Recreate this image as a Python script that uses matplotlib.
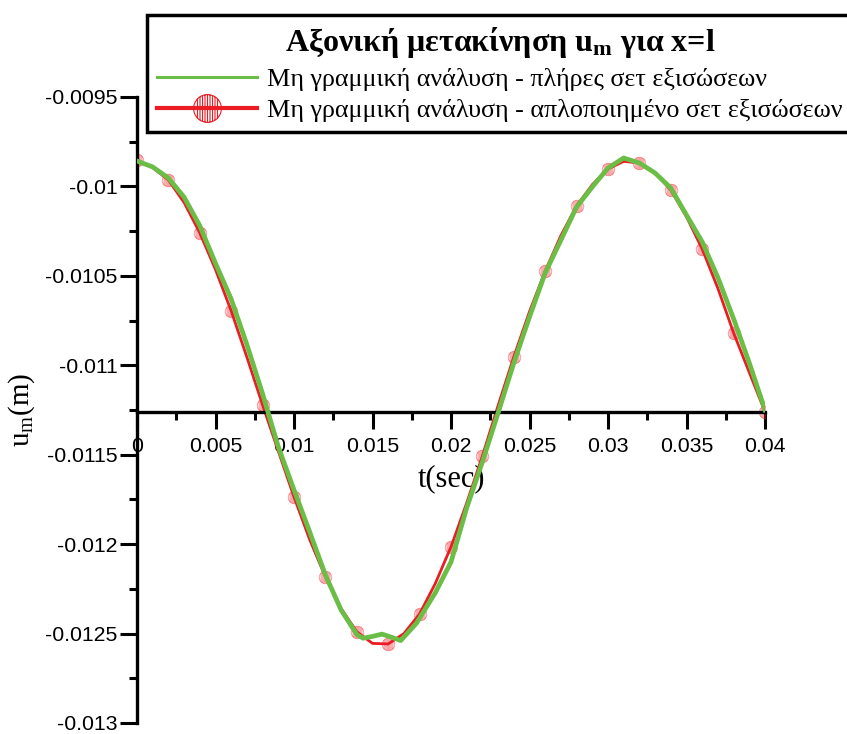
import matplotlib
matplotlib.use("Agg")
import matplotlib.pyplot as plt
import numpy as np
from matplotlib.lines import Line2D
from matplotlib.path import Path
from matplotlib.ticker import MultipleLocator, FuncFormatter

plt.rcParams["mathtext.fontset"] = "custom"
plt.rcParams["mathtext.rm"] = "Liberation Serif"
plt.rcParams["mathtext.it"] = "Liberation Serif:italic"
plt.rcParams["mathtext.bf"] = "Liberation Serif:bold"

# full set of equations (green)
t_full = [
    0.000, 0.001, 0.002, 0.003, 0.004, 0.005, 0.006, 0.007, 0.008, 0.009,
    0.010, 0.011, 0.012, 0.013, 0.014, 0.0144, 0.0150, 0.0156, 0.0162, 0.0168,
    0.0178, 0.019, 0.020, 0.021, 0.022, 0.023, 0.024, 0.025, 0.026, 0.027,
    0.028, 0.029, 0.030, 0.031, 0.032, 0.033, 0.034, 0.035, 0.036, 0.037,
    0.038, 0.039, 0.040,
]
u_full = [
    -0.009858, -0.009891, -0.009953, -0.010060, -0.010220, -0.010430, -0.010630,
    -0.010885, -0.011160, -0.011456, -0.011697, -0.011932, -0.012172, -0.012368,
    -0.012505, -0.012526, -0.012516, -0.012503, -0.012520, -0.012539, -0.012442,
    -0.012272, -0.012100, -0.011797, -0.011540, -0.011266, -0.010987, -0.010730,
    -0.010484, -0.010300, -0.010115, -0.010003, -0.009897, -0.009841, -0.009869,
    -0.009925, -0.010009, -0.010160, -0.010310, -0.010510, -0.010740, -0.010987,
    -0.011250,
]

# simplified set of equations (red), every 1 ms, markers every 2 ms
t_simple = np.arange(41) * 0.001
u_simple = [
    -0.009852, -0.009895, -0.009964, -0.010090, -0.010260, -0.010465, -0.010696,
    -0.010955, -0.011222, -0.011480, -0.011736, -0.011975, -0.012183, -0.012360,
    -0.012490, -0.012555, -0.012558, -0.012500, -0.012390, -0.012220, -0.012015,
    -0.011770, -0.011507, -0.011225, -0.010953, -0.010700, -0.010473, -0.010275,
    -0.010109, -0.009990, -0.009902, -0.009860, -0.009869, -0.009925, -0.010020,
    -0.010170, -0.010350, -0.010570, -0.010819, -0.011040, -0.011260,
]

labels = [
    "Μη γραμμική ανάλυση - πλήρες σετ εξισώσεων",
    "Μη γραμμική ανάλυση - απλοποιημένο σετ εξισώσεων",
]
legend_title = r"Αξονική μετακίνηση u$_{\mathbf{m}}$ για x=l"

GREEN = "#6abd45"
RED = "#ec1c24"

# hatched circle marker (circle + vertical strokes)
circ = Path.unit_circle()
verts, codes = [], []
for xv in np.linspace(-0.72, 0.72, 9):
    h = np.sqrt(1 - xv ** 2)
    verts += [(xv, -h), (xv, h)]
    codes += [Path.MOVETO, Path.LINETO]
hatched = Path.make_compound_path(circ, Path(verts, codes))

fig = plt.figure(figsize=(8.47, 7.34), dpi=100)
ax = fig.add_axes([137 / 847, 1 - 723 / 734, 628 / 847, 626 / 734])

ax.plot(t_simple, u_simple, color=RED, lw=2.0, marker=hatched, markevery=2,
        ms=9, mfc="none", mec=(0.93, 0.11, 0.14, 0.5), mew=0.6, zorder=2)
ax.plot(t_full, u_full, color=GREEN, lw=3.4, zorder=3)

ax.set_xlim(0, 0.04)
ax.set_ylim(-0.013, -0.0095)

for s in ("top", "right"):
    ax.spines[s].set_visible(False)
ax.spines["bottom"].set_position(("data", -0.01126))
for s in ("left", "bottom"):
    ax.spines[s].set_linewidth(2.4)

ax.xaxis.set_major_locator(MultipleLocator(0.005))
ax.xaxis.set_minor_locator(MultipleLocator(0.0025))
ax.yaxis.set_major_locator(MultipleLocator(0.0005))
ax.yaxis.set_minor_locator(MultipleLocator(0.00025))
fmt = FuncFormatter(lambda v, p: f"{round(v, 6):g}")
ax.xaxis.set_major_formatter(fmt)
ax.yaxis.set_major_formatter(fmt)

ax.tick_params(which="major", direction="out", length=12, width=2.2,
               labelsize=15.3, pad=6)
ax.tick_params(which="minor", direction="out", length=6, width=2.2)
ax.tick_params(axis="y", which="major", pad=2)
for lab in ax.get_xticklabels() + ax.get_yticklabels():
    lab.set_fontfamily("Liberation Sans")

ax.set_xlabel("t(sec)", fontsize=22, family="Liberation Serif", labelpad=6)
ax.set_ylabel(r"u$_{\mathrm{m}}$(m)", fontsize=21, family="Liberation Serif")
ax.yaxis.set_label_coords(-0.16, 0.5)

handles = [
    Line2D([], [], color=GREEN, lw=2.2),
    Line2D([], [], color=RED, lw=3.0, marker=hatched, ms=20,
           mfc="none", mec=RED, mew=0.8),
]
leg = fig.legend(handles, labels, loc="upper left",
                 bbox_to_anchor=(147 / 847, 1 - 15 / 734),
                 bbox_transform=fig.transFigure, borderaxespad=0,
                 title=legend_title,
                 title_fontproperties={"family": "Liberation Serif",
                                       "weight": "bold", "size": 23},
                 prop={"family": "Liberation Serif", "size": 18.8},
                 handlelength=3.85, handletextpad=0.38, labelspacing=0.3,
                 borderpad=0.38, numpoints=1, fancybox=False, framealpha=1)
leg.get_frame().set_edgecolor("black")
leg.get_frame().set_linewidth(2.5)

fig.savefig("out.png", dpi=100, facecolor="white")
